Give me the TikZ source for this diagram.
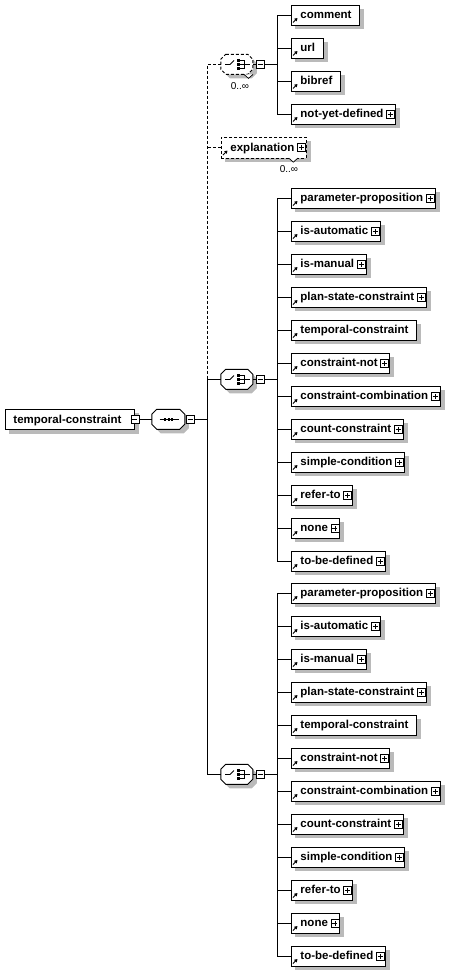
\documentclass[tikz,border=0pt]{standalone}
\usepackage{fontspec}
\setmainfont{Liberation Sans}
\usetikzlibrary{arrows.meta,calc,backgrounds}
\colorlet{shadowgrey}{black!27}
\tikzset{
  ln/.style={line width=0.9pt},
  dsh/.style={ln,dash pattern=on 3pt off 2pt},
  elbox/.style={draw, fill=white, ln, minimum height=20pt, inner sep=0pt, anchor=west,
    text height=9pt, text depth=2pt, font=\bfseries\fontsize{11.5}{13}\selectfont},
  octn/.style={inner sep=0pt, minimum width=32pt, minimum height=20pt},
  pmbox/.style={draw, fill=white, line width=0.7pt, minimum size=8pt, inner sep=0pt},
  plusbox/.style={pmbox, path picture={
    \draw[line width=0.7pt] ([xshift=-2.5pt]path picture bounding box.center) -- ([xshift=2.5pt]path picture bounding box.center)
      ([yshift=-2.5pt]path picture bounding box.center) -- ([yshift=2.5pt]path picture bounding box.center);}},
  minusbox/.style={pmbox, path picture={
    \draw[line width=0.7pt] ([xshift=-2.5pt]path picture bounding box.center) -- ([xshift=2.5pt]path picture bounding box.center);}},
  refarrow/.style={-{Triangle[length=3pt,width=3.5pt]}, line width=0.8pt},
  occ/.style={font=\fontsize{10}{12}\selectfont, inner sep=0pt},
  notch/.style={line width=0.7pt, fill=white}
}
% shadow of a box node
\newcommand\boxshadow[1]{%
  \begin{pgfonlayer}{background}
    \fill[shadowgrey] ([shift={(4,4)}]#1.north west) rectangle ([shift={(4,4)}]#1.south east);
  \end{pgfonlayer}}
% octagon outline with shadow around node #1 of width #2, style #3
\newcommand\octo[3]{%
  \fill[shadowgrey] ([shift={(9,4)}]#1.north west) -- ([shift={(#2-1,4)}]#1.north west) -- ([shift={(#2+4,9)}]#1.north west)
    -- ([shift={(#2+4,19)}]#1.north west) -- ([shift={(#2-1,24)}]#1.north west) -- ([shift={(9,24)}]#1.north west)
    -- ([shift={(4,19)}]#1.north west) -- ([shift={(4,9)}]#1.north west) -- cycle;
  \draw[#3,fill=white] ([shift={(5,0)}]#1.north west) -- ([shift={(#2-5,0)}]#1.north west) -- ([shift={(#2,5)}]#1.north west)
    -- ([shift={(#2,15)}]#1.north west) -- ([shift={(#2-5,20)}]#1.north west) -- ([shift={(5,20)}]#1.north west)
    -- ([shift={(0,15)}]#1.north west) -- ([shift={(0,5)}]#1.north west) -- cycle;
}
\newcommand\choicesym[1]{%
  \draw[line width=0.8pt] ([xshift=-12pt]#1.center) -- ([xshift=-7pt]#1.center) -- ([shift={(-3,-4)}]#1.center);
  \fill ([shift={(-0.5,-5.2)}]#1.center) rectangle ++(3,2.4);
  \fill ([shift={(-0.5,-1.2)}]#1.center) rectangle ++(3,2.4);
  \fill ([shift={(-0.5,2.8)}]#1.center) rectangle ++(3,2.4);
  \draw[line width=0.8pt] ([shift={(2.5,-4)}]#1.center) -- ++(5,0) -- ++(0,8) -- ++(-5,0)
    ([shift={(2.5,0)}]#1.center) -- ++(10,0);
}
\begin{document}
\begin{tikzpicture}[x=1pt,y=-1pt]
\useasboundingbox (0,0) rectangle (460,972);
% root
\node[elbox] (root) at (5,419.5) {\hspace*{8pt}temporal-constraint\hspace*{13pt}};
\boxshadow{root}
\node[minusbox] (rootm) at (root.east) {};
% sequence
\node[octn, minimum width=33pt] (seq) at (168.5,419.5) {};
\octo{seq}{33}{ln}
\draw[line width=0.8pt] ([xshift=-9pt]seq.center) -- ([xshift=10pt]seq.center);
\foreach \dx in {-4.5,-1,2.5} \fill ([shift={(\dx,-1.2)}]seq.center) rectangle ++(2.4,2.4);
\node[minusbox] (seqm) at (190,419.5) {};
\draw[ln] (rootm.east) -- (seq.west);
\coordinate (T) at (207,419.5);
\draw[ln] (seqm.east) -- (T);

% top choice (optional, repeating)
\node[octn] (ch0) at (237,64.5) {};
\octo{ch0}{32}{dsh}
\choicesym{ch0}
\draw[notch] ([shift={(7,-0.3)}]ch0.south) -- ++(4.5,4) -- ++(4.5,-4);
\node[minusbox] (ch0m) at (260,64.5) {};
\draw[ln] (ch0.east) -- (ch0m.west);
\node[occ] (ch0o) at (240,86) {0..∞};

% explanation (optional, repeating)
\node[elbox, dsh, minimum height=21pt] (ex) at (221,147.5) {\hspace*{9pt}explanation\hspace*{12pt}};
\boxshadow{ex}
\draw[refarrow] ([shift={(2,7.5)}]ex.west) -- ++(4.5,-4.5);
\node[plusbox] (exp) at ([xshift=-5.5pt]ex.east) {};
\draw[notch] ([shift={(-18,-0.3)}]ex.south east) -- ++(4.5,4) -- ++(4.5,-4);
\node[occ] (exo) at (289,169) {0..∞};

% choices
\node[octn] (ch1) at (237,379.5) {};
\octo{ch1}{32}{ln}
\choicesym{ch1}
\node[minusbox] (ch1m) at (260,379.5) {};
\draw[ln] (ch1.east) -- (ch1m.west);
\node[octn] (ch2) at (237,774.5) {};
\octo{ch2}{32}{ln}
\choicesym{ch2}
\node[minusbox] (ch2m) at (260,774.5) {};
\draw[ln] (ch2.east) -- (ch2m.west);

% trunk
\draw[dsh] (ch0.west) -- (ch0.west -| T) -- (ch1.west -| T);
\draw[dsh] (ex.west) -- (ex.west -| T);
\draw[ln] (ch1.west) -- (ch1.west -| T) -- (ch2.west -| T) -- (ch2.west);

% top group
\foreach \t/\p [count=\i] in {comment/0, url/0, bibref/0, not-yet-defined/1} {
  \pgfmathsetmacro\yy{15+(\i-1)*33}
  \node[elbox] (t\i) at (291,\yy) {\hspace*{9pt}\t\hspace*{\ifnum\p=1 12pt\else 8pt\fi}};
  \boxshadow{t\i}
  \draw[refarrow] ([shift={(2,7.5)}]t\i.west) -- ++(4.5,-4.5);
  \ifnum\p=1 \node[plusbox] at ([xshift=-5.5pt]t\i.east) {};\fi
}
\coordinate (J0) at (277,64.5);
\draw[ln] (ch0m.east) -- (J0);
\draw[ln] (t1.west -| J0) -- (t4.west -| J0);
\foreach \i in {1,...,4} \draw[ln] (t\i.west -| J0) -- (t\i.west);

% choice groups
\foreach \g/\ys/\cn in {a/198/ch1, b/593/ch2} {
  \foreach \t/\p [count=\i] in {parameter-proposition/1, is-automatic/1, is-manual/1, plan-state-constraint/1,
     temporal-constraint/0, constraint-not/1, constraint-combination/1, count-constraint/1,
     simple-condition/1, refer-to/1, none/1, to-be-defined/1} {
    \pgfmathsetmacro\yy{\ys+(\i-1)*33}
    \node[elbox] (\g\i) at (291,\yy) {\hspace*{9pt}\t\hspace*{\ifnum\p=1 12pt\else 8pt\fi}};
    \boxshadow{\g\i}
    \draw[refarrow] ([shift={(2,7.5)}]\g\i.west) -- ++(4.5,-4.5);
    \ifnum\p=1 \node[plusbox] at ([xshift=-5.5pt]\g\i.east) {};\fi
  }
  \pgfmathsetmacro\yc{\ys+181.5}
  \coordinate (J\g) at (277,\yc);
  \draw[ln] (\cn m.east) -- (J\g);
  \draw[ln] (\g1.west -| J\g) -- (\g12.west -| J\g);
  \foreach \i in {1,...,12} \draw[ln] (\g\i.west -| J\g) -- (\g\i.west);
}
\end{tikzpicture}
\end{document}
